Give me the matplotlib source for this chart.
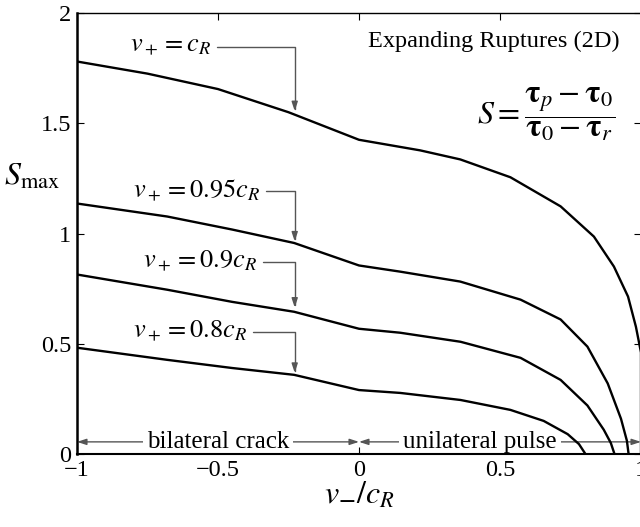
import matplotlib
matplotlib.use("Agg")
import matplotlib.pyplot as plt

plt.rcParams['font.family'] = ['Liberation Serif', 'DejaVu Serif']
plt.rcParams['mathtext.fontset'] = 'stix'

# Data (v-/cR vs S_max) for each v+ value
x_c100 = [-1, -0.75, -0.5, -0.25, 0, 0.217, 0.359, 0.537, 0.715, 0.833, 0.904, 0.954, 0.982, 1.0, 1.0]
y_c100 = [1.78, 1.725, 1.655, 1.55, 1.425, 1.377, 1.336, 1.255, 1.123, 0.986, 0.85, 0.714, 0.577, 0.46, 0.0]
x_c95 = [-1, -0.68, -0.45, -0.23, 0, 0.146, 0.359, 0.573, 0.715, 0.81, 0.882, 0.929, 0.950, 0.956]
y_c95 = [1.136, 1.077, 1.018, 0.957, 0.855, 0.827, 0.782, 0.70, 0.61, 0.487, 0.32, 0.16, 0.06, 0]
x_c90 = [-1, -0.68, -0.45, -0.23, 0, 0.146, 0.36, 0.573, 0.715, 0.81, 0.868, 0.893, 0.906]
y_c90 = [0.814, 0.745, 0.69, 0.645, 0.568, 0.55, 0.509, 0.436, 0.336, 0.22, 0.11, 0.05, 0]
x_c80 = [-1, -0.68, -0.45, -0.23, 0, 0.146, 0.36, 0.537, 0.655, 0.74, 0.78, 0.803]
y_c80 = [0.482, 0.427, 0.39, 0.359, 0.29, 0.277, 0.245, 0.2, 0.15, 0.09, 0.045, 0]

labels = [r'$v_+ = c_R$', r'$v_+ = 0.95c_R$', r'$v_+ = 0.9c_R$', r'$v_+ = 0.8c_R$']
label_y = [1.845, 1.195, 0.873, 0.555]
arrow_tip_y = [1.555, 0.964, 0.664, 0.368]
label_end_x = [-0.505, -0.33, -0.34, -0.375]
arrow_x = -0.228

xticks = [-1, -0.5, 0, 0.5, 1]
xticklabels = ['\u22121', '\u22120.5', '0', '0.5', '1']
yticks = [0, 0.5, 1, 1.5, 2]
yticklabels = ['0', '0.5', '1', '1.5', '2']

fig = plt.figure(figsize=(6.4, 5.27), dpi=100)
ax = fig.add_axes([77/640, 73/527, 564/640, 441/527])

for xs, ys in [(x_c100, y_c100), (x_c95, y_c95), (x_c90, y_c90), (x_c80, y_c80)]:
    ax.plot(xs, ys, color='black', lw=1.7, zorder=3, solid_joinstyle='round')

ax.set_xlim(-1, 1)
ax.set_ylim(0, 2)
ax.set_xticks(xticks)
ax.set_xticklabels(xticklabels)
ax.set_yticks(yticks)
ax.set_yticklabels(yticklabels)
ax.tick_params(direction='in', length=5, width=0.8, labelsize=17.5, top=True, right=True, pad=4)
ax.spines['left'].set_linewidth(1.8)
ax.spines['bottom'].set_linewidth(1.5)
ax.spines['top'].set_linewidth(1.0)
ax.spines['right'].set_linewidth(1.0)

ax.set_xlabel(r'$v_{\mathbf{-}}/c_R$', fontsize=23, labelpad=0)
ax.set_ylabel(r'$S_{\rm max}$', fontsize=23, rotation=0)
ax.yaxis.label.set_va('center')
ax.yaxis.label.set_ha('center')
ax.yaxis.set_label_coords(-0.08, 0.627)

gray = '#555555'
for lab, ly, ty, lx in zip(labels, label_y, arrow_tip_y, label_end_x):
    ax.text(lx - 0.02, ly, lab, fontsize=19, ha='right', va='center', zorder=4)
    ax.annotate('', xy=(arrow_x, ty), xytext=(lx, ly),
                arrowprops=dict(arrowstyle='-|>,head_length=0.55,head_width=0.18',
                                connectionstyle='angle,angleA=0,angleB=90,rad=0',
                                color=gray, lw=1.0, shrinkA=0, shrinkB=0), zorder=4)

# Region arrows at bottom
ay = 0.055
for x0, x1 in [(-1, 0), (0, 1)]:
    ax.annotate('', xy=(x0, ay), xytext=(x1, ay),
                arrowprops=dict(arrowstyle='<|-|>,head_length=0.55,head_width=0.18',
                                color=gray, lw=1.0, shrinkA=0, shrinkB=0), zorder=1)
ax.text(-0.5, ay, 'bilateral crack', fontsize=18, ha='center', va='center', zorder=2,
        bbox=dict(facecolor='white', edgecolor='none', pad=3))
ax.text(0.43, ay, 'unilateral pulse', fontsize=18, ha='center', va='center', zorder=2,
        bbox=dict(facecolor='white', edgecolor='none', pad=3))

ax.text(0.925, 1.87, 'Expanding Ruptures (2D)', fontsize=17.5, ha='right', va='center')
ax.text(0.665, 1.54, r'$S = \dfrac{\mathbf{\tau}_p - \mathbf{\tau}_0}{\mathbf{\tau}_0 - \mathbf{\tau}_r}$',
        fontsize=23, ha='center', va='center')

fig.savefig('out.png', dpi=100)
